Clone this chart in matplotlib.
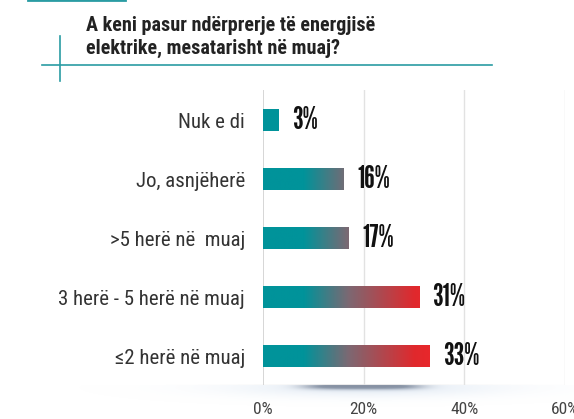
import numpy as np
import matplotlib
matplotlib.use('Agg')
import matplotlib.pyplot as plt
from matplotlib.colors import LinearSegmentedColormap

# data
categories = ['Nuk e di', 'Jo, asnjëherë', '>5 herë në  muaj', '3 herë - 5 herë në muaj', '≤2 herë në muaj']
values = [3, 16, 17, 31, 33]
ticks = [0, 20, 40, 60]
tick_labels = ['0%', '20%', '40%', '60%']
title = 'A keni pasur ndërprerje të energjisë\nelektrike, mesatarisht në muaj?'

narrow = ['Roboto Condensed', 'Liberation Sans Narrow', 'DejaVu Sans']
heavy = ['League Gothic', 'Anton', 'Oswald', 'DejaVu Sans']
teal = '#2a9ca3'

W, H = 574, 419
fig = plt.figure(figsize=(W / 100, H / 100), dpi=100)

# background layer in pixel coords
bg = fig.add_axes([0, 0, 1, 1], zorder=0)
bg.set_xlim(0, W)
bg.set_ylim(H, 0)
bg.axis('off')

# soft shadow band under the chart
xx, yy = np.meshgrid(np.arange(W), np.arange(H))
img = np.ones((H, W, 4))
light = np.where(yy >= 385, 0.5 * np.exp(-((xx - 365) / 130.0) ** 2) * np.exp(-((yy - 387) / 9.0) ** 2), 0)
dark = np.where(yy >= 385, 0.75 * np.exp(-((xx - 362) / 58.0) ** 4) * np.exp(-((yy - 386) / 3.0) ** 2), 0)
img[..., 0] = (0.80 * light + 0.35 * dark) / np.maximum(light + dark, 1e-6)
img[..., 1] = (0.86 * light + 0.38 * dark) / np.maximum(light + dark, 1e-6)
img[..., 2] = (0.93 * light + 0.45 * dark) / np.maximum(light + dark, 1e-6)
img[..., 3] = np.clip(light + dark, 0, 1)
bg.imshow(img, extent=(0, W, H, 0), aspect='auto', interpolation='bilinear')

# title decoration lines
bg.plot([42, 492], [65, 65], color=teal, lw=1.2)
bg.plot([60, 60], [36, 81], color=teal, lw=1.2)
bg.plot([28, 125], [0.5, 0.5], color=teal, lw=2)
bg.text(86, 37, title, fontsize=14.5, fontweight='bold', family=narrow,
        color='#222222', va='center', ha='left', linespacing=1.2)

# main chart
ax = fig.add_axes([263 / W, (H - 385) / H, (565 - 263) / W, (385 - 90) / H], zorder=1)
ax.patch.set_alpha(0)

cmap = LinearSegmentedColormap.from_list('tr', [(0, '#00939a'), (8 / 33, '#00939a'),
                                                (17 / 33, '#7d6872'), (30 / 33, '#e0292d'),
                                                (1, '#e8272b')])
bh = 0.36
for i, v in enumerate(values):
    xs = np.linspace(0, v, 300)
    grad = cmap(np.clip(xs / 33, 0, 1))[None, :, :]
    ax.imshow(grad, extent=(0, v, i + bh / 2, i - bh / 2), aspect='auto', zorder=2)
    ax.text(v + 2.7, i, f'{v}%', fontsize=22, family=heavy,
            color='#111111', va='center', ha='left')
ax.set_xlim(0, 60)
ax.set_ylim(4.49, -0.52)

for t in ticks[1:]:
    ax.axvline(t, color='#e2e2e2', lw=1, zorder=0)
ax.axvline(0, color='#cfcfcf', lw=1.2, zorder=1)

for s in ax.spines.values():
    s.set_visible(False)
ax.set_xticks(ticks)
ax.set_xticklabels(tick_labels, family=narrow, fontsize=12.5, color='#444444')
ax.set_yticks(range(len(categories)))
ax.set_yticklabels(categories, family=narrow, fontsize=15, color='#333333')
ax.tick_params(axis='x', length=0, pad=12)
ax.tick_params(axis='y', length=0, pad=13)

fig.savefig('out.png', dpi=100)
